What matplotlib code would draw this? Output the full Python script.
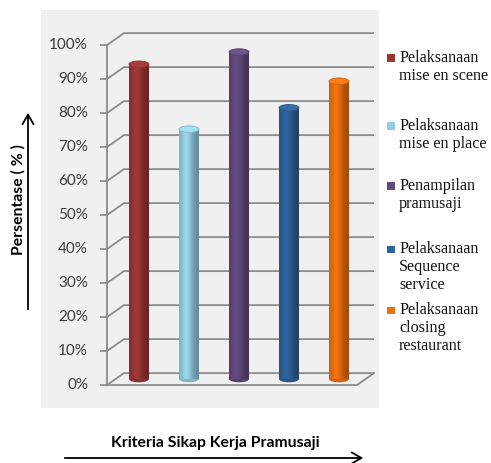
import matplotlib
matplotlib.use("Agg")
import matplotlib.pyplot as plt
import numpy as np
from matplotlib.patches import Ellipse, FancyArrowPatch
import matplotlib.colors as mcolors

categories = ["Pelaksanaan\nmise en scene", "Pelaksanaan\nmise en place", "Penampilan\npramusaji",
              "Pelaksanaan\nSequence\nservice", "Pelaksanaan\nclosing\nrestaurant"]
values = [92.6, 73.5, 96.2, 79.8, 87.6]
colors = ["#9A3634", "#93CFE0", "#624A7D", "#31609A", "#EE7010"]
yticks = [0, 10, 20, 30, 40, 50, 60, 70, 80, 90, 100]
ytick_labels = [f"{t}%" for t in yticks]

W, H = 491, 463
fig = plt.figure(figsize=(W / 100, H / 100), dpi=100)
fig.patch.set_facecolor("white")

# axes over gray panel; 1 x-unit = 50 px, 1 y-unit = 3.4 px
ax = fig.add_axes([41 / W, 1 - 408 / H, 338 / W, 398 / H])
ax.set_facecolor("#F0F0F0")
for s in ax.spines.values():
    s.set_visible(False)
ax.set_xticks([])
ax.set_yticks([])

DX, DY = 0.34, 3.5
x_front_left, x_front_right = -0.64, 4.36
grid_col = "#8C8C8C"

# back wall gridlines + left side wall diagonals
for t in yticks:
    ax.plot([x_front_left, x_front_left + DX, x_front_right + DX], [t, t + DY, t + DY],
            color=grid_col, lw=1.3, zorder=1, solid_capstyle="butt")
# floor
ax.plot([x_front_left, x_front_right, x_front_right + DX], [0, 0, DY], color=grid_col, lw=1.3, zorder=1)
# front vertical axis
ax.plot([x_front_left, x_front_left], [0, 100], color=grid_col, lw=1.3, zorder=1)
for t, lab in zip(yticks, ytick_labels):
    ax.plot([x_front_left - 0.12, x_front_left], [t, t], color=grid_col, lw=1.3, zorder=1)
    ax.text(-1.02, t, lab, ha="right", va="center", fontsize=11, family="Lato", color="#3A3A3A")

# cylinders
bw = 0.40
eh = 1.9
prof_x = np.linspace(0, 1, 60)
profile = 0.80 + 0.28 * np.exp(-((prof_x - 0.38) / 0.30) ** 2) - 0.12 * prof_x
for i, (v, c) in enumerate(zip(values, colors)):
    xc = i
    base = DY / 2
    rgb = np.array(mcolors.to_rgb(c))
    grad = np.clip(rgb[None, :] * profile[:, None], 0, 1)
    img = grad[None, :, :]
    ax.imshow(img, extent=[xc - bw / 2, xc + bw / 2, base, base + v], aspect="auto",
              interpolation="bilinear", zorder=3)
    # bottom cap
    ax.add_patch(Ellipse((xc, base), bw, eh, facecolor=tuple(rgb * 0.88), edgecolor="none", zorder=2.9))
    # top cap
    top_col = np.clip(rgb * 1.06 + 0.02, 0, 1)
    ax.add_patch(Ellipse((xc, base + v), bw, eh, facecolor=tuple(top_col),
                         edgecolor=tuple(rgb * 0.88), lw=0.6, zorder=4))

ax.set_xlim(-1.96, 4.8)
ax.set_ylim(-6.76, 110.3)

# legend (manual, outside panel)
legend_first_line_y = [58, 126, 186, 249, 310]
line_h = 18
for lab, c, y0 in zip(categories, colors, legend_first_line_y):
    fig.patches.append(plt.Rectangle((387 / W, 1 - (y0 + 4) / H), 7.5 / W, 7.5 / H,
                                     transform=fig.transFigure, facecolor=c, edgecolor="none"))
    for k, line in enumerate(lab.split("\n")):
        fig.text(399 / W, 1 - (y0 + k * line_h) / H, line, ha="left", va="center",
                 fontsize=11.6, family="Liberation Serif", color="#111111")

# axis titles with arrows
fig.text(18 / W, 1 - 200 / H, "Persentase ( % )", rotation=90, ha="center", va="center",
         fontsize=11.3, fontweight="bold", family="Lato")
fig.patches.append(FancyArrowPatch((28 / W, 1 - 312 / H), (28 / W, 1 - 110 / H),
                                   transform=fig.transFigure, arrowstyle="->,head_length=7,head_width=4",
                                   color="black", lw=1.3, mutation_scale=1))
fig.text(215 / W, 1 - 443 / H, "Kriteria Sikap Kerja Pramusaji", ha="center", va="center",
         fontsize=11.3, fontweight="bold", family="Lato")
fig.patches.append(FancyArrowPatch((62 / W, 1 - 458 / H), (366 / W, 1 - 458 / H),
                                   transform=fig.transFigure, arrowstyle="->,head_length=7,head_width=4",
                                   color="black", lw=1.3, mutation_scale=1))

fig.savefig("out.png", dpi=100)
